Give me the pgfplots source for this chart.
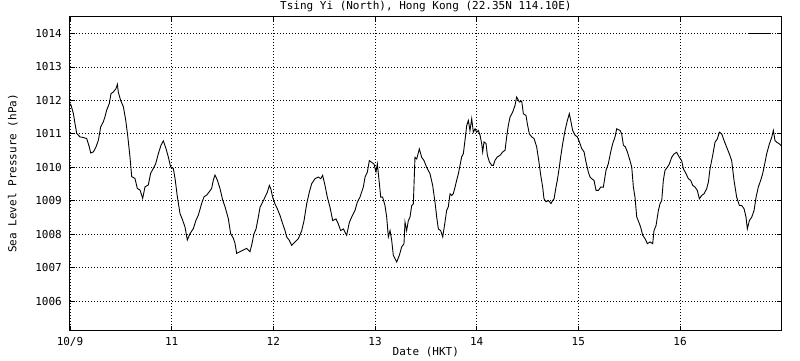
\documentclass[border=0pt]{standalone}
\usepackage{fontspec}
\setmainfont{DejaVu Sans Mono}
\usepackage{pgfplots}
\pgfplotsset{compat=1.18}
\begin{document}
\begin{tikzpicture}
\useasboundingbox (-70pt,-29.3pt) rectangle (730pt,330.7pt);
\begin{axis}[
 at={(0pt,0pt)}, anchor=south west,
 scale only axis, width=711.7pt, height=314.7pt,
 xmin=0, xmax=7, ymin=1005.12, ymax=1014.52,
 xtick={0,1,2,3,4,5,6}, xticklabels={10/9,11,12,13,14,15,16},
 ytick={1006,1007,...,1014},
 tick align=inside, major tick length=4.5pt, tick style={black, line width=0.8pt},
 grid=major, major grid style={black, line width=0.8pt, dash pattern=on 0.8pt off 2.2pt},
 axis line style={line width=1pt},
 font=\fontsize{11}{13}\selectfont,
 /pgf/number format/assume math mode=true,
 /pgf/number format/1000 sep={},
 yticklabel style={inner sep=0pt, xshift=-8pt, anchor=east},
 xticklabel style={inner sep=0pt, yshift=-8pt, anchor=north, text height=7pt, text depth=0pt},
 every axis title shift=0pt,
 title={Tsing Yi (North), Hong Kong (22.35N 114.10E)},
 title style={at={(axis description cs:0.5,1.0222)}, anchor=base, inner sep=0pt},
 xlabel={Date (HKT)},
 xlabel style={at={(axis description cs:0.5,-0.0794)}, anchor=base, inner sep=0pt},
 ylabel={Sea Level Pressure (hPa)},
 ylabel style={at={(axis description cs:-0.0752,0.5)}, anchor=base, inner sep=0pt},
 legend style={draw=none, fill=none, at={(axis description cs:0.9526,0.946)}, anchor=west, inner sep=0pt},
 legend image code/.code={\draw[#1] (0pt,0pt) -- (22pt,0pt);},
]
\addplot[black, line width=0.9pt, sharp plot] coordinates {
(0,1011.90)(0.010,1011.86)(0.033,1011.61)(0.049,1011.31)(0.066,1011.01)(0.082,1010.96)(0.098,1010.91)(0.131,1010.89)(0.164,1010.86)(0.190,1010.61)(0.203,1010.43)(0.230,1010.46)(0.256,1010.61)(0.279,1010.81)(0.302,1011.21)(0.328,1011.36)(0.344,1011.51)(0.361,1011.71)(0.387,1011.91)(0.403,1012.20)(0.426,1012.25)(0.452,1012.35)(0.466,1012.48)(0.475,1012.25)(0.498,1012.00)(0.525,1011.81)(0.548,1011.41)(0.567,1010.96)(0.590,1010.31)(0.607,1009.72)(0.639,1009.67)(0.662,1009.37)(0.689,1009.32)(0.715,1009.07)(0.738,1009.42)(0.770,1009.47)(0.793,1009.82)(0.820,1009.97)(0.843,1010.11)(0.869,1010.41)(0.895,1010.66)(0.918,1010.79)(0.944,1010.56)(0.967,1010.31)(0.990,1010.01)(1.016,1009.97)(1.033,1009.67)(1.056,1009.12)(1.082,1008.62)(1.108,1008.42)(1.131,1008.22)(1.154,1007.83)(1.180,1008.02)(1.213,1008.17)(1.239,1008.42)(1.262,1008.57)(1.295,1008.92)(1.318,1009.12)(1.344,1009.17)(1.370,1009.27)(1.393,1009.37)(1.410,1009.62)(1.426,1009.77)(1.449,1009.62)(1.475,1009.37)(1.502,1009.02)(1.525,1008.82)(1.557,1008.47)(1.580,1008.02)(1.607,1007.88)(1.623,1007.73)(1.639,1007.43)(1.672,1007.48)(1.705,1007.53)(1.738,1007.58)(1.770,1007.48)(1.787,1007.68)(1.810,1008.02)(1.830,1008.16)(1.852,1008.51)(1.869,1008.81)(1.895,1008.96)(1.918,1009.11)(1.941,1009.26)(1.961,1009.46)(1.975,1009.36)(1.993,1009.11)(2.016,1008.91)(2.039,1008.76)(2.066,1008.56)(2.092,1008.31)(2.115,1008.11)(2.131,1007.92)(2.157,1007.82)(2.180,1007.67)(2.213,1007.77)(2.246,1007.87)(2.279,1008.11)(2.302,1008.41)(2.328,1008.91)(2.354,1009.26)(2.377,1009.51)(2.410,1009.66)(2.443,1009.71)(2.466,1009.66)(2.485,1009.76)(2.508,1009.46)(2.531,1009.11)(2.557,1008.81)(2.584,1008.41)(2.616,1008.46)(2.639,1008.31)(2.662,1008.11)(2.689,1008.16)(2.721,1007.97)(2.748,1008.36)(2.770,1008.51)(2.803,1008.71)(2.826,1008.96)(2.852,1009.11)(2.885,1009.41)(2.902,1009.71)(2.925,1009.86)(2.944,1010.20)(2.967,1010.15)(2.990,1010.10)(3.010,1009.86)(3.023,1010.10)(3.043,1009.51)(3.056,1009.11)(3.075,1009.11)(3.098,1008.86)(3.115,1008.51)(3.131,1007.92)(3.148,1008.11)(3.164,1007.82)(3.180,1007.37)(3.197,1007.27)(3.213,1007.17)(3.239,1007.37)(3.262,1007.62)(3.285,1007.72)(3.295,1008.36)(3.311,1008.11)(3.328,1008.41)(3.344,1008.51)(3.361,1008.86)(3.377,1008.91)(3.393,1010.30)(3.410,1010.25)(3.436,1010.55)(3.459,1010.30)(3.482,1010.20)(3.508,1010.00)(3.541,1009.81)(3.567,1009.46)(3.590,1008.96)(3.607,1008.51)(3.623,1008.16)(3.646,1008.11)(3.666,1007.92)(3.689,1008.38)(3.705,1008.72)(3.721,1008.82)(3.738,1009.21)(3.754,1009.16)(3.770,1009.21)(3.787,1009.41)(3.803,1009.61)(3.820,1009.81)(3.836,1010.06)(3.852,1010.31)(3.869,1010.41)(3.885,1010.81)(3.902,1011.25)(3.918,1011.40)(3.934,1011.10)(3.951,1011.45)(3.967,1011.05)(3.984,1011.15)(4.000,1011.05)(4.016,1011.10)(4.033,1010.96)(4.049,1010.71)(4.059,1010.46)(4.072,1010.76)(4.092,1010.71)(4.105,1010.36)(4.125,1010.16)(4.148,1010.06)(4.164,1010.06)(4.180,1010.21)(4.203,1010.31)(4.230,1010.36)(4.256,1010.46)(4.279,1010.51)(4.295,1010.91)(4.311,1011.25)(4.328,1011.50)(4.354,1011.65)(4.377,1011.85)(4.393,1012.10)(4.420,1011.95)(4.443,1011.98)(4.459,1011.60)(4.485,1011.55)(4.498,1011.30)(4.518,1011.00)(4.541,1010.91)(4.564,1010.86)(4.590,1010.61)(4.610,1010.21)(4.630,1009.76)(4.649,1009.41)(4.662,1009.06)(4.682,1008.97)(4.705,1009.01)(4.731,1008.92)(4.748,1009.01)(4.761,1009.06)(4.780,1009.41)(4.793,1009.61)(4.813,1010.01)(4.826,1010.31)(4.846,1010.71)(4.869,1011.10)(4.892,1011.40)(4.911,1011.60)(4.925,1011.40)(4.944,1011.10)(4.967,1010.96)(4.990,1010.91)(5.010,1010.76)(5.033,1010.56)(5.056,1010.46)(5.075,1010.16)(5.098,1009.86)(5.115,1009.71)(5.131,1009.66)(5.154,1009.61)(5.174,1009.31)(5.197,1009.31)(5.220,1009.41)(5.246,1009.41)(5.272,1009.91)(5.295,1010.11)(5.318,1010.46)(5.338,1010.71)(5.361,1010.91)(5.377,1011.15)(5.410,1011.10)(5.426,1011.00)(5.443,1010.66)(5.462,1010.61)(5.482,1010.46)(5.502,1010.26)(5.525,1010.01)(5.541,1009.41)(5.557,1009.11)(5.574,1008.52)(5.600,1008.32)(5.613,1008.21)(5.633,1007.97)(5.656,1007.87)(5.679,1007.72)(5.705,1007.77)(5.731,1007.72)(5.744,1008.11)(5.764,1008.26)(5.787,1008.71)(5.803,1008.91)(5.820,1009.01)(5.836,1009.61)(5.852,1009.91)(5.875,1010.00)(5.895,1010.10)(5.918,1010.30)(5.941,1010.40)(5.967,1010.45)(5.993,1010.30)(6.016,1010.20)(6.033,1009.96)(6.059,1009.81)(6.082,1009.66)(6.105,1009.61)(6.125,1009.46)(6.148,1009.41)(6.170,1009.31)(6.190,1009.06)(6.213,1009.16)(6.236,1009.21)(6.262,1009.36)(6.279,1009.56)(6.295,1009.96)(6.321,1010.35)(6.344,1010.75)(6.367,1010.85)(6.387,1011.05)(6.410,1011.00)(6.433,1010.80)(6.459,1010.60)(6.485,1010.40)(6.508,1010.20)(6.531,1009.61)(6.557,1009.11)(6.584,1008.86)(6.607,1008.86)(6.630,1008.76)(6.649,1008.51)(6.662,1008.16)(6.682,1008.41)(6.705,1008.51)(6.728,1008.71)(6.748,1009.11)(6.770,1009.41)(6.793,1009.61)(6.813,1009.81)(6.836,1010.15)(6.852,1010.40)(6.879,1010.70)(6.902,1010.90)(6.918,1011.10)(6.934,1010.80)(6.951,1010.75)(6.977,1010.70)(6.993,1010.65)(7.0,1010.65)
};
\addlegendentry{}
\end{axis}
\end{tikzpicture}
\end{document}
